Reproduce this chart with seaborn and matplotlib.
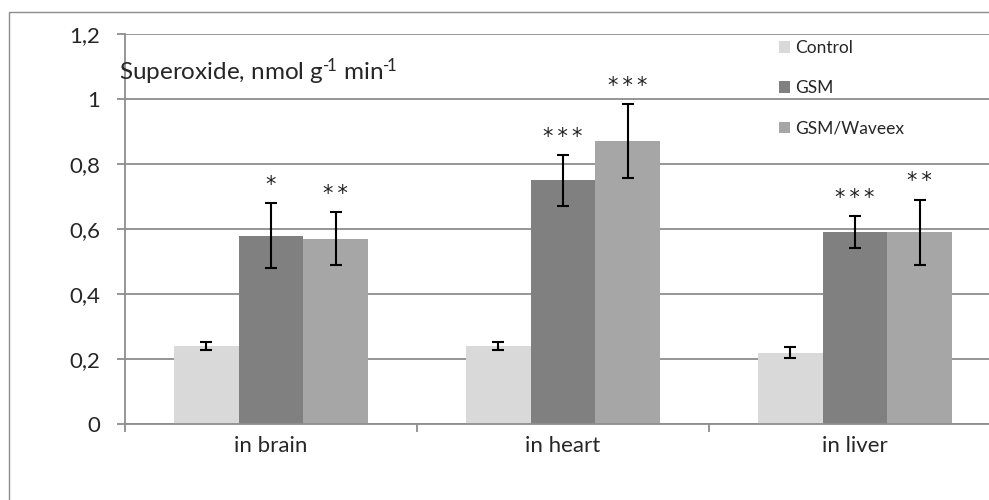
import matplotlib
matplotlib.use("Agg")
import matplotlib.pyplot as plt
import matplotlib.patches as mpatches
from matplotlib.ticker import FuncFormatter, FixedLocator
import seaborn as sns
import pandas as pd
import numpy as np

# ---- data ----
organs = ["in brain", "in heart", "in liver"]
groups = ["Control", "GSM", "GSM/Waveex"]
control_vals = [0.24, 0.24, 0.22]
gsm_vals = [0.58, 0.75, 0.59]
waveex_vals = [0.57, 0.87, 0.59]
control_err = [0.011, 0.011, 0.017]
gsm_err = [0.10, 0.078, 0.049]
waveex_err = [0.082, 0.114, 0.10]
control_sig = ["", "", ""]
gsm_sig = ["*", "***", "***"]
waveex_sig = ["**", "***", "**"]
y_ticks = [0, 0.2, 0.4, 0.6, 0.8, 1.0, 1.2]
title_text = "Superoxide, nmol g$^{\u2010\\!1}$ min$^{\u2010\\!1}$"

colors = {"Control": "#d9d9d9", "GSM": "#808080", "GSM/Waveex": "#a6a6a6"}

sns.set_style("white")
plt.rcParams["font.family"] = ["Lato", "DejaVu Sans"]
plt.rcParams["mathtext.fontset"] = "custom"
plt.rcParams["mathtext.rm"] = "Lato"
plt.rcParams["mathtext.it"] = "Lato"
plt.rcParams["mathtext.default"] = "rm"

df = pd.DataFrame({
    "organ": organs * 3,
    "group": [groups[0]] * 3 + [groups[1]] * 3 + [groups[2]] * 3,
    "value": control_vals + gsm_vals + waveex_vals,
})
errs = [control_err, gsm_err, waveex_err]
sigs = [control_sig, gsm_sig, waveex_sig]

W, H = 989, 500
fig = plt.figure(figsize=(W / 100, H / 100), dpi=100)
ax = fig.add_axes([125 / W, 1 - 424 / H, (1001 - 125) / W, (424 - 34) / H])

# outer chart border
fig.patches.append(mpatches.Rectangle((9 / W, -0.1), 1.2, 1 - 12 / H + 0.1,
                                      transform=fig.transFigure, fill=False,
                                      edgecolor="#8c8c8c", linewidth=1.0, zorder=0))

sns.barplot(data=df, x="organ", y="value", hue="group", order=organs,
            hue_order=groups, palette=colors, width=0.667, errorbar=None,
            linewidth=0, saturation=1, ax=ax, zorder=2)

for cont, err, sig in zip(ax.containers, errs, sigs):
    xs = [b.get_x() + b.get_width() / 2 for b in cont]
    hs = [b.get_height() for b in cont]
    ax.errorbar(xs, hs, yerr=err, fmt="none", ecolor="black", elinewidth=1.5,
                capsize=4.5, capthick=1.5, zorder=3)
    for x, h, e, s in zip(xs, hs, err, sig):
        if s:
            ax.annotate("\u2009".join(s), (x, h + e), xytext=(0, 6),
                        textcoords="offset points", ha="center", va="bottom",
                        fontsize=15, color="#222222", family="DejaVu Sans")

ax.set_ylim(0, 1.2)
ax.set_xlim(-0.5, 2.5)
ax.yaxis.set_major_locator(FixedLocator(y_ticks))
ax.yaxis.set_major_formatter(FuncFormatter(lambda v, p: ("%g" % v).replace(".", ",")))
ax.grid(axis="y", color="#8e8e8e", linewidth=1.3)
ax.set_axisbelow(True)
ax.set_xlabel("")
ax.set_ylabel("")

for s in ["top", "right"]:
    ax.spines[s].set_visible(False)
for s in ["left", "bottom"]:
    ax.spines[s].set_color("#8e8e8e")
    ax.spines[s].set_linewidth(1.3)

ax.tick_params(axis="y", length=6, width=1.3, color="#8e8e8e", pad=12,
               labelsize=16, left=True)
ax.tick_params(axis="x", which="major", length=0, pad=9, labelsize=16)
ax.set_xticks([-0.5, 0.5, 1.5, 2.5], minor=True)
ax.tick_params(axis="x", which="minor", length=6, width=1.3, color="#8e8e8e",
               bottom=True, direction="out")

fig.text(119 / W, 1 - 72 / H, title_text, fontsize=17.5, ha="left", va="center")

ax.legend(loc="upper left", bbox_to_anchor=(779 / W, 1 - 40 / H),
          bbox_transform=fig.transFigure, frameon=False, fontsize=12.5,
          handlelength=0.65, handleheight=0.65, handletextpad=0.25,
          labelspacing=1.4, borderpad=0, borderaxespad=0)

fig.savefig("out.png", dpi=100)
